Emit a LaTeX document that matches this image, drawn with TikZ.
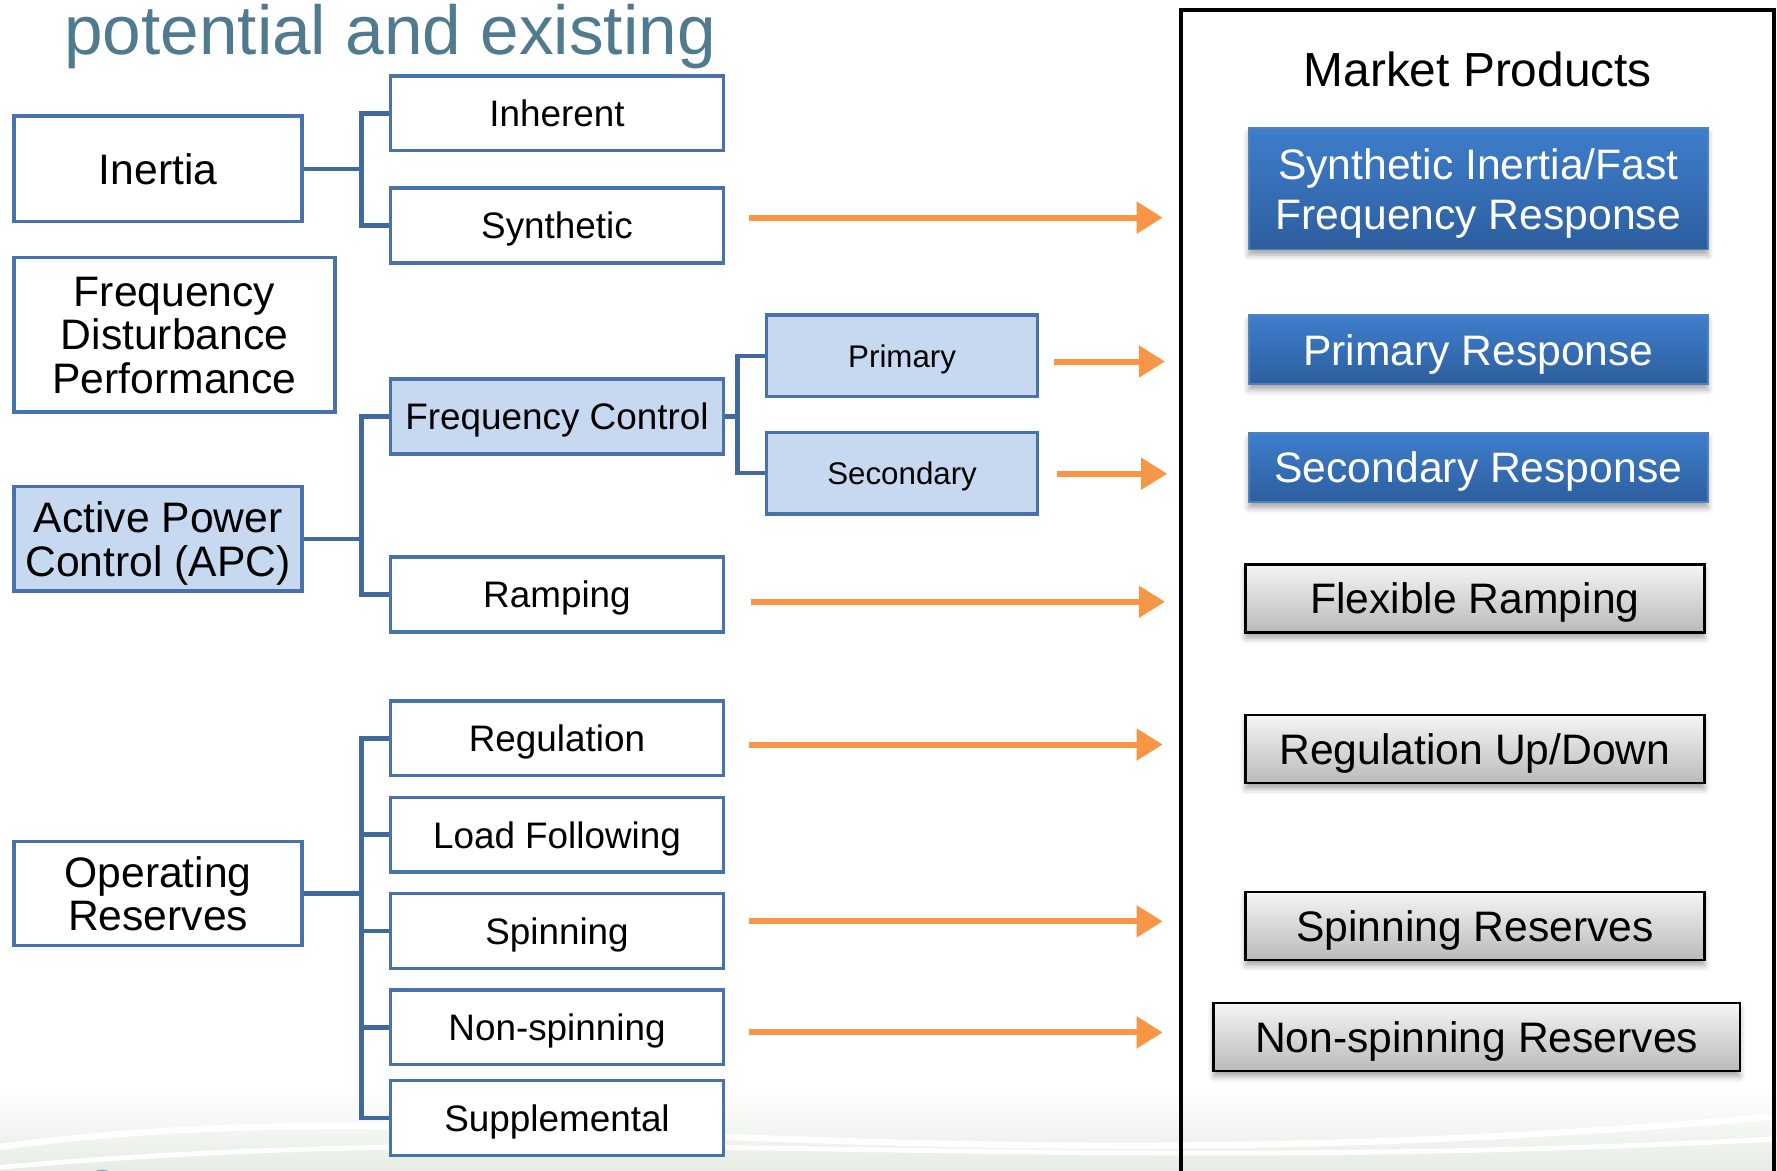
\documentclass[tikz,border=0pt]{standalone}
\usepackage{fontspec}
\setmainfont{Liberation Sans}
\usetikzlibrary{arrows.meta,shadows.blur}

\definecolor{boxline}{RGB}{71,115,170}
\definecolor{busline}{RGB}{66,105,158}
\definecolor{lightfill}{RGB}{198,217,240}
\definecolor{arrowor}{RGB}{247,150,70}
\definecolor{titlecol}{RGB}{80,122,142}
\definecolor{prodtop}{RGB}{62,126,204}
\definecolor{prodbot}{RGB}{45,94,158}
\definecolor{prodedge}{RGB}{79,129,189}
\definecolor{greytop}{RGB}{245,245,245}
\definecolor{greybot}{RGB}{186,186,186}
\definecolor{swoosh}{RGB}{230,237,228}

\newcommand\txtL{\fontsize{10.7}{10.9}\selectfont}
\newcommand\txtM{\fontsize{9.25}{11}\selectfont}
\newcommand\txtS{\fontsize{7.85}{9.5}\selectfont}
\newcommand\txtP{\fontsize{10.7}{12.5}\selectfont}

\tikzset{
  catbox/.style={draw=boxline, line width=0.85pt, fill=white, align=center,
    inner sep=0pt, text depth=0pt, font=\txtL},
  subbox/.style={draw=boxline, line width=0.85pt, fill=white, align=center,
    minimum width=2.94cm, minimum height=0.66cm, inner sep=0pt,
    text depth=0pt, font=\txtM},
  leafbox/.style={draw=boxline, line width=0.85pt, fill=lightfill, align=center,
    minimum width=2.39cm, minimum height=0.72cm, inner sep=0pt,
    text depth=0pt, font=\txtS},
  bluebox/.style={draw=prodedge, line width=0.4pt, top color=prodtop,
    bottom color=prodbot, text=white, align=center, inner sep=0pt,
    minimum width=4.05cm, text depth=0pt, font=\txtP,
    blur shadow={shadow xshift=0pt, shadow yshift=-0.05cm, shadow blur radius=0.05cm, shadow opacity=35}},
  greybox/.style={draw=black, line width=0.6pt, top color=greytop,
    bottom color=greybot, align=center, inner sep=0pt,
    minimum width=4.05cm, minimum height=0.6cm, text depth=0pt, font=\txtL,
    blur shadow={shadow xshift=0pt, shadow yshift=-0.05cm, shadow blur radius=0.05cm, shadow opacity=35}},
  bus/.style={draw=busline, line width=1.15pt},
  prodarrow/.style={draw=arrowor, line width=1.5pt,
    -{Triangle[length=0.23cm,width=0.27cm]}},
}

\begin{document}
\begin{tikzpicture}[x=0.01cm, y=-0.01cm]
\useasboundingbox (0,0) rectangle (1568,1033);

% faint slide background at the bottom
\shade[top color=white, bottom color=swoosh] (0,960) rectangle (1568,1033);
\draw[white, line width=1.6pt] (0,1012) .. controls (420,955) and (780,1055) .. (1568,985);
\draw[white, line width=1.2pt] (0,1030) .. controls (500,985) and (900,1040) .. (1568,1005);
\fill[prodedge!70] (90,1046) circle (14);
\fill[white] (92,1050) circle (9);

% heading
\node[anchor=base west, inner sep=0pt, text=titlecol,
  font=\fontsize{17.4}{20}\selectfont] (title) at (56,48) {potential and existing};

% market products frame (open at the bottom edge)
\draw[black, line width=1pt] (1042,1045) -- (1042,9) -- (1565,9) -- (1565,1045);
\node[font=\fontsize{12}{14}\selectfont, inner sep=0pt] (mp) at (1304,61) {Market Products};

% left column
\node[catbox, minimum width=2.54cm, minimum height=0.93cm] (inertia) at (139.5,149) {Inertia};
\node[catbox, minimum width=2.83cm, minimum height=1.36cm] (fdp) at (154,295.5)
  {Frequency\\Disturbance\\Performance};
\node[catbox, fill=lightfill, minimum width=2.54cm, minimum height=0.92cm] (apc) at (139.5,475.5)
  {Active Power\\Control (APC)};
\node[catbox, minimum width=2.54cm, minimum height=0.92cm] (opres) at (139.5,788.5)
  {Operating\\Reserves};

% middle column
\node[subbox] (inh)  at (491.5,100)   {Inherent};
\node[subbox] (syn)  at (491.5,199)   {Synthetic};
\node[subbox, fill=lightfill] (fc) at (491.5,367.5) {Frequency Control};
\node[subbox] (ramp) at (491.5,524.5) {Ramping};
\node[subbox] (reg)  at (491.5,651.5) {Regulation};
\node[subbox] (lf)   at (491.5,736.5) {Load Following};
\node[subbox] (spin) at (491.5,821.5) {Spinning};
\node[subbox] (nspin) at (491.5,906.5) {Non-spinning};
\node[subbox] (supp) at (491.5,986.5) {Supplemental};

% frequency control branches
\node[leafbox] (prim) at (796,314)   {Primary};
\node[leafbox] (sec)  at (796,417.5) {Secondary};

% market products
\node[bluebox, minimum height=1.07cm] (psyn) at (1304.5,166.5)
  {Synthetic Inertia/Fast\\Frequency Response};
\node[bluebox, minimum height=0.61cm] (pprim) at (1304.5,308.5) {Primary Response};
\node[bluebox, minimum height=0.61cm] (psec)  at (1304.5,412.5) {Secondary Response};
\node[greybox] (pflex) at (1301.5,528) {Flexible Ramping};
\node[greybox] (preg)  at (1301.5,661) {Regulation Up/Down};
\node[greybox] (pspin) at (1301.5,817) {Spinning Reserves};
\node[greybox, minimum width=4.64cm] (pnspin) at (1303,915) {Non-spinning Reserves};

% tree connectors
\coordinate (busA) at (319,0);
\coordinate (busB) at (651,0);
\draw[bus] (inertia.east) -- (inertia.east -| busA);
\draw[bus] (inh.west) -- (inh.west -| busA) -- (syn.west -| busA) -- (syn.west);
\draw[bus] (apc.east) -- (apc.east -| busA);
\draw[bus] (fc.west) -- (fc.west -| busA) -- (ramp.west -| busA) -- (ramp.west);
\draw[bus] (fc.east) -- (fc.east -| busB);
\draw[bus] (prim.west) -- (prim.west -| busB) -- (sec.west -| busB) -- (sec.west);
\draw[bus] (opres.east) -- (opres.east -| busA);
\draw[bus] (reg.west) -- (reg.west -| busA) -- (supp.west -| busA) -- (supp.west);
\draw[bus] (lf.west) -- (lf.west -| busA);
\draw[bus] (spin.west) -- (spin.west -| busA);
\draw[bus] (nspin.west) -- (nspin.west -| busA);

% arrows towards the market products
\coordinate (aS1) at (661,192);  \coordinate (aE1) at (1026,192);
\coordinate (aS2) at (930,319);  \coordinate (aE2) at (1028,319);
\coordinate (aS3) at (933,418);  \coordinate (aE3) at (1030,418);
\coordinate (aS4) at (663,531);  \coordinate (aE4) at (1028,531);
\coordinate (aS5) at (661,657);  \coordinate (aE5) at (1026,657);
\coordinate (aS6) at (661,813);  \coordinate (aE6) at (1026,813);
\coordinate (aS7) at (661,911);  \coordinate (aE7) at (1026,911);
\foreach \k in {1,...,7} \draw[prodarrow] (aS\k) -- (aE\k);
\end{tikzpicture}
\end{document}
